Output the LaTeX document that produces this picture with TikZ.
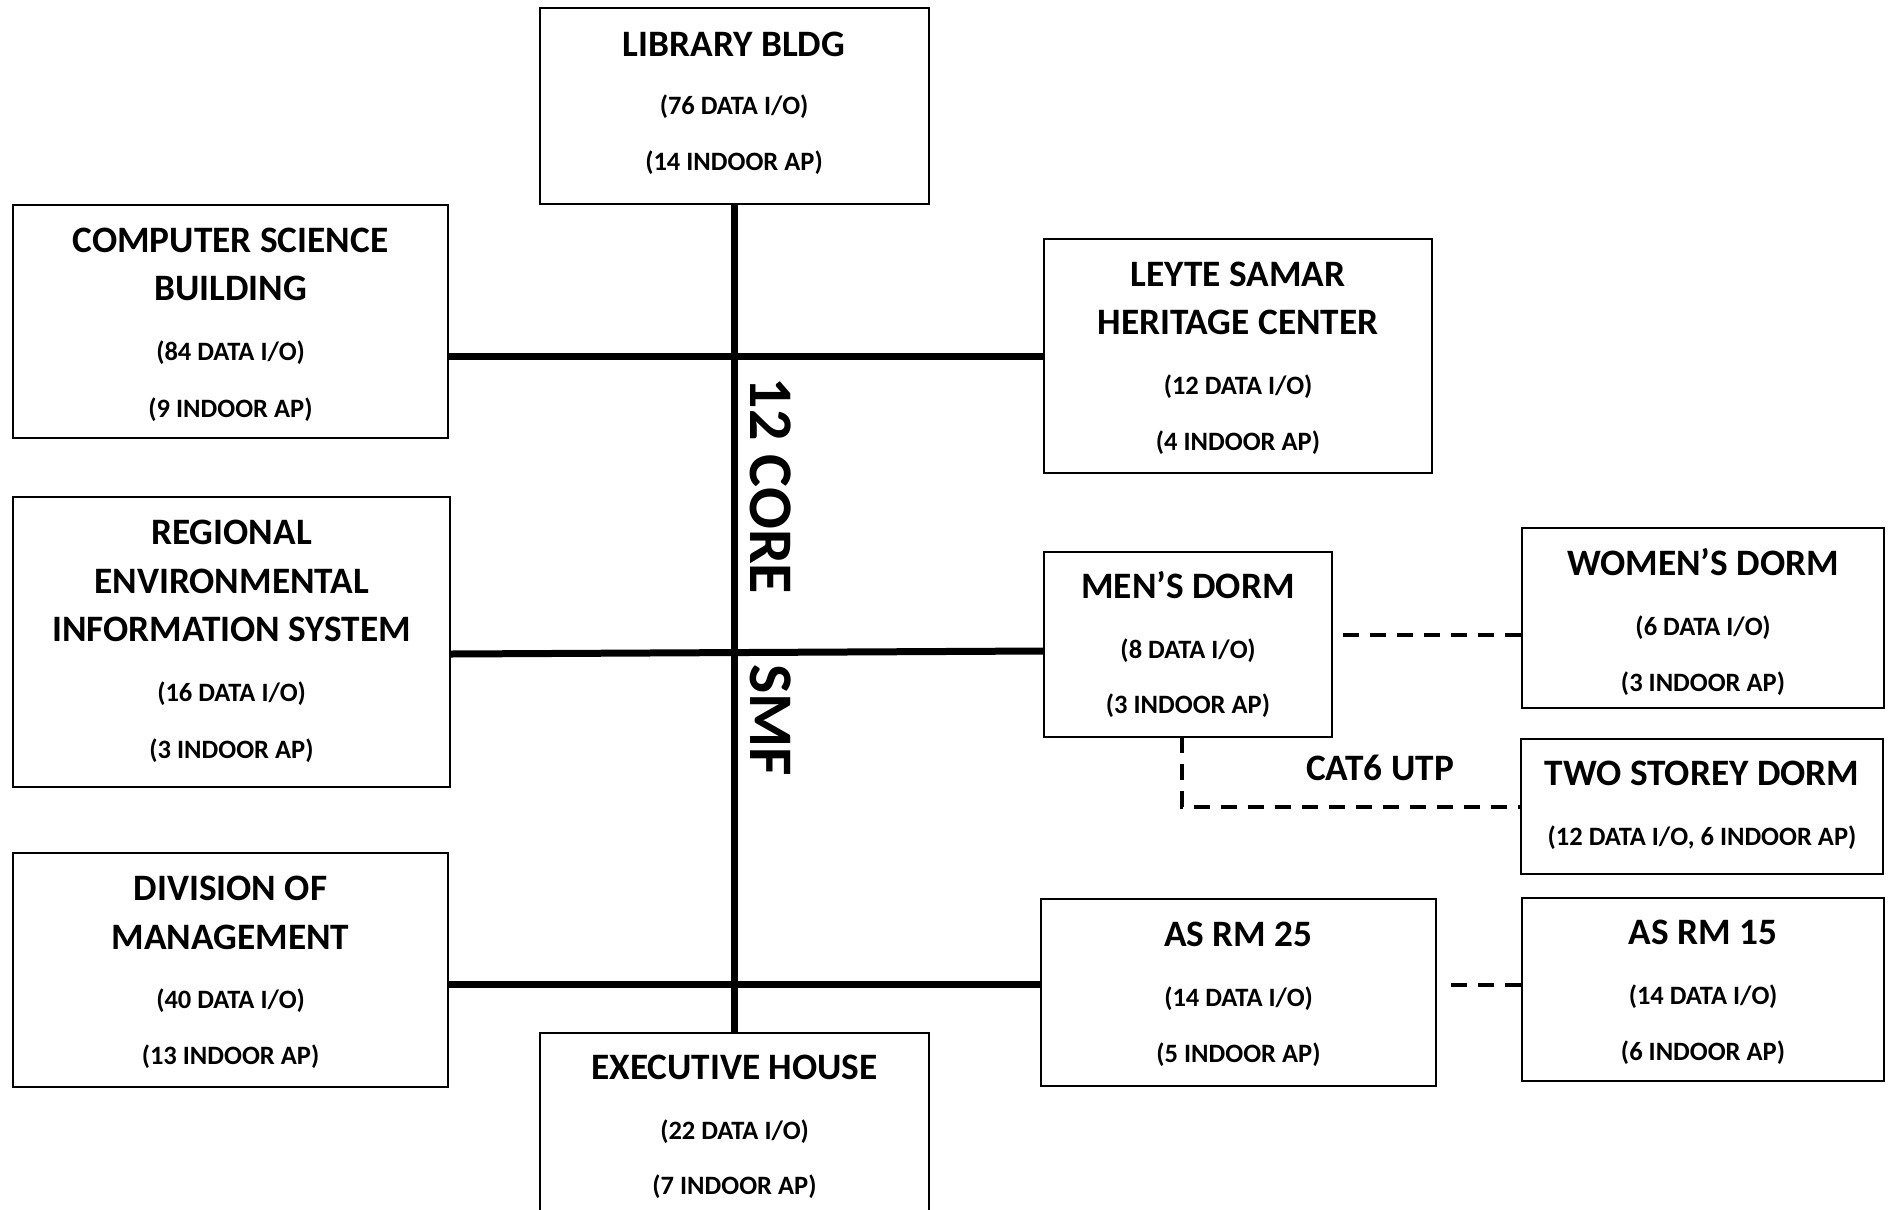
\documentclass[tikz,border=0pt]{standalone}
\usepackage{fontspec}
\setmainfont{Carlito}
\begin{document}
\begin{tikzpicture}[x=1pt,y=-1pt,
  box/.style={draw, line width=2.2pt, inner sep=0pt},
  trunk/.style={line width=7pt},
  link/.style={line width=4pt, dash pattern=on 16pt off 11pt},
  ttl/.style={anchor=base, inner sep=0pt, yshift=-1pt, font=\fontsize{37.3}{44}\selectfont\bfseries},
  sub/.style={anchor=base, inner sep=0pt, yshift=-1pt, font=\fontsize{26.5}{32}\selectfont\bfseries},
  core/.style={rotate=-90, inner sep=0pt, font=\fontsize{62}{70}\selectfont\bfseries}]
\clip (0,0) rectangle (1890,1210);
\fill[white] (0,0) rectangle (1890,1210);

% buildings
\node[box, minimum width=389pt, minimum height=196pt] (lib)    at (734.5,106)   {};
\node[box, minimum width=435pt, minimum height=233pt] (cs)     at (230.5,321.5) {};
\node[box, minimum width=388pt, minimum height=234pt] (leyte)  at (1238,356)    {};
\node[box, minimum width=437pt, minimum height=290pt] (reis)   at (231.5,642)   {};
\node[box, minimum width=288pt, minimum height=185pt] (mens)   at (1188,644.5)  {};
\node[box, minimum width=362pt, minimum height=180pt] (womens) at (1703,618)    {};
\node[box, minimum width=362pt, minimum height=135pt] (two)    at (1702,806.5)  {};
\node[box, minimum width=435pt, minimum height=234pt] (dom)    at (230.5,970)   {};
\node[box, minimum width=395pt, minimum height=187pt] (as25)   at (1238.5,992.5){};
\node[box, minimum width=362pt, minimum height=183pt] (as15)   at (1703,989.5)  {};
\node[box, minimum width=389pt, minimum height=220pt] (exec)   at (734.5,1143)  {};

% backbone fibre
\draw[trunk] (lib.south) -- (exec.north);
\draw[trunk] (cs.east |- 0,356) -- (leyte.west |- 0,356);
\draw[trunk] (reis.east |- 0,654) -- (mens.west |- 0,651);
\draw[trunk] (dom.east |- 0,984) -- (as25.west |- 0,984);

% copper links
\coordinate (mr) at (1338,635);
\coordinate (mb) at (1182,737);
\coordinate (asr) at (1449,985);
\draw[link] (womens.west |- mr) -- (mr);
\draw[link] (mb) -- (mb |- two.west) -- (two.west);
\draw[link] (as15.west |- asr) -- (asr);

% labels
\node[core] (corelbl) at (771,577) {12 CORE\hspace{70pt}SMF};
\node[ttl] (cat) at (1380,779.5) {CAT6 UTP};

\node[ttl] at (734,55) {LIBRARY BLDG};
\node[sub] at (734,113.7) {(76 DATA I/O)};
\node[sub] at (734,169.2) {(14 INDOOR AP)};

\node[ttl] at (230.5,251.5) {COMPUTER SCIENCE};
\node[ttl] at (230.5,299.5) {BUILDING};
\node[sub] at (230.5,359.7) {(84 DATA I/O)};
\node[sub] at (230.5,416.7) {(9 INDOOR AP)};

\node[ttl] at (1238,285.5) {LEYTE SAMAR};
\node[ttl] at (1238,333.5) {HERITAGE CENTER};
\node[sub] at (1238,393.7) {(12 DATA I/O)};
\node[sub] at (1238,449.7) {(4 INDOOR AP)};

\node[ttl] at (231.5,543.5) {REGIONAL};
\node[ttl] at (231.5,592.5) {ENVIRONMENTAL};
\node[ttl] at (231.5,640.5) {INFORMATION SYSTEM};
\node[sub] at (231.5,700.7) {(16 DATA I/O)};
\node[sub] at (231.5,757.7) {(3 INDOOR AP)};

\node[ttl] at (1188,597.5) {MEN’S DORM};
\node[sub] at (1188,657.7) {(8 DATA I/O)};
\node[sub] at (1188,712.7) {(3 INDOOR AP)};

\node[ttl] at (1703,574.5) {WOMEN’S DORM};
\node[sub] at (1703,634.7) {(6 DATA I/O)};
\node[sub] at (1703,690.7) {(3 INDOOR AP)};

\node[ttl] at (1702,784.5) {TWO STOREY DORM};
\node[sub] at (1702,844.7) {(12 DATA I/O, 6 INDOOR AP)};

\node[ttl] at (230.5,899.5) {DIVISION OF};
\node[ttl] at (230.5,948.5) {MANAGEMENT};
\node[sub] at (230.5,1007.7) {(40 DATA I/O)};
\node[sub] at (230.5,1063.7) {(13 INDOOR AP)};

\node[ttl] at (1238.5,945.5) {AS RM 25};
\node[sub] at (1238.5,1005.7) {(14 DATA I/O)};
\node[sub] at (1238.5,1061.7) {(5 INDOOR AP)};

\node[ttl] at (1703,943.5) {AS RM 15};
\node[sub] at (1703,1003.7) {(14 DATA I/O)};
\node[sub] at (1703,1059.7) {(6 INDOOR AP)};

\node[ttl] at (734.5,1078.5) {EXECUTIVE HOUSE};
\node[sub] at (734.5,1138.7) {(22 DATA I/O)};
\node[sub] at (734.5,1193.7) {(7 INDOOR AP)};
\end{tikzpicture}
\end{document}
